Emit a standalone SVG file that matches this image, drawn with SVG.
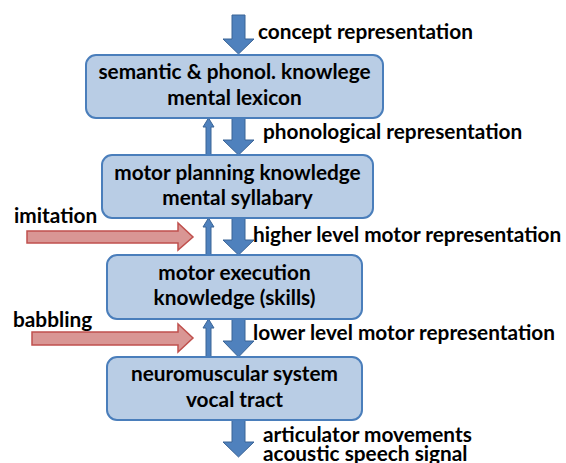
<svg xmlns="http://www.w3.org/2000/svg" width="566" height="463" viewBox="0 0 566 463">
<style>
.box{fill:#b9cde5;stroke:#4a7ebb;stroke-width:2}
.t{font-family:Lato,"Liberation Sans",sans-serif;font-weight:bold;font-size:20.8px;fill:#000}
.c{text-anchor:middle}
.down{fill:#4f81bd;stroke:#3a6496;stroke-width:1}
.up{fill:#4f81bd;stroke:#3a6496;stroke-width:1}
.red{fill:#d99694;stroke:#c0504d;stroke-width:1.5}
</style>
<rect width="566" height="463" fill="#fff"/>
<g id="connectors">
<path class="down" d="M232,15 H245 V39 H254 L238.5,54 L223,39 H232 Z"/>
<path class="down" d="M232,118 H245 V140 H254 L238.5,155 L223,140 H232 Z"/>
<path class="down" d="M232,218 H245 V240 H254 L238.5,255 L223,240 H232 Z"/>
<path class="down" d="M232,319 H245 V341 H254 L238.5,357 L223,341 H232 Z"/>
<path class="down" d="M232,420 H245 V442 H254 L238.5,457 L223,442 H232 Z"/>
<path class="up" d="M206,155 V127 H203 L208.5,118 L214,127 H211 V155 Z"/>
<path class="up" d="M206,255 V227 H203 L208.5,218 L214,227 H211 V255 Z"/>
<path class="up" d="M206,357 V328 H203 L208.5,319 L214,328 H211 V357 Z"/>
<path class="red" d="M27,231 H178 V223 L193,237 L178,250 V243 H27 Z"/>
<path class="red" d="M32,332 H178 V324 L193,338 L178,352 V345 H32 Z"/>
</g>
<g id="n1">
<rect class="box" x="86" y="55" width="297" height="63" rx="10"/>
<text class="t c" x="234.5" y="79">semantic &amp; phonol. knowlege</text>
<text class="t c" x="234.5" y="105">mental lexicon</text>
</g>
<g id="n2">
<rect class="box" x="102" y="155" width="271" height="63" rx="10"/>
<text class="t c" x="237.5" y="180">motor planning knowledge</text>
<text class="t c" x="237.5" y="205">mental syllabary</text>
</g>
<g id="n3">
<rect class="box" x="107" y="255" width="255" height="64" rx="10"/>
<text class="t c" x="234.5" y="280">motor execution</text>
<text class="t c" x="234.5" y="305">knowledge (skills)</text>
</g>
<g id="n4">
<rect class="box" x="107" y="357" width="255" height="63" rx="10"/>
<text class="t c" x="234.5" y="381">neuromuscular system</text>
<text class="t c" x="234.5" y="407">vocal tract</text>
</g>
<g id="labels">
<text class="t" x="258" y="39">concept representation</text>
<text class="t" x="263" y="139">phonological representation</text>
<text class="t" x="253" y="242">higher level motor representation</text>
<text class="t" x="253" y="340">lower level motor representation</text>
<text class="t" x="263" y="442">articulator movements</text>
<text class="t" x="263" y="461">acoustic speech signal</text>
<text class="t" x="14" y="223">imitation</text>
<text class="t" x="13" y="327">babbling</text>
</g>
</svg>
